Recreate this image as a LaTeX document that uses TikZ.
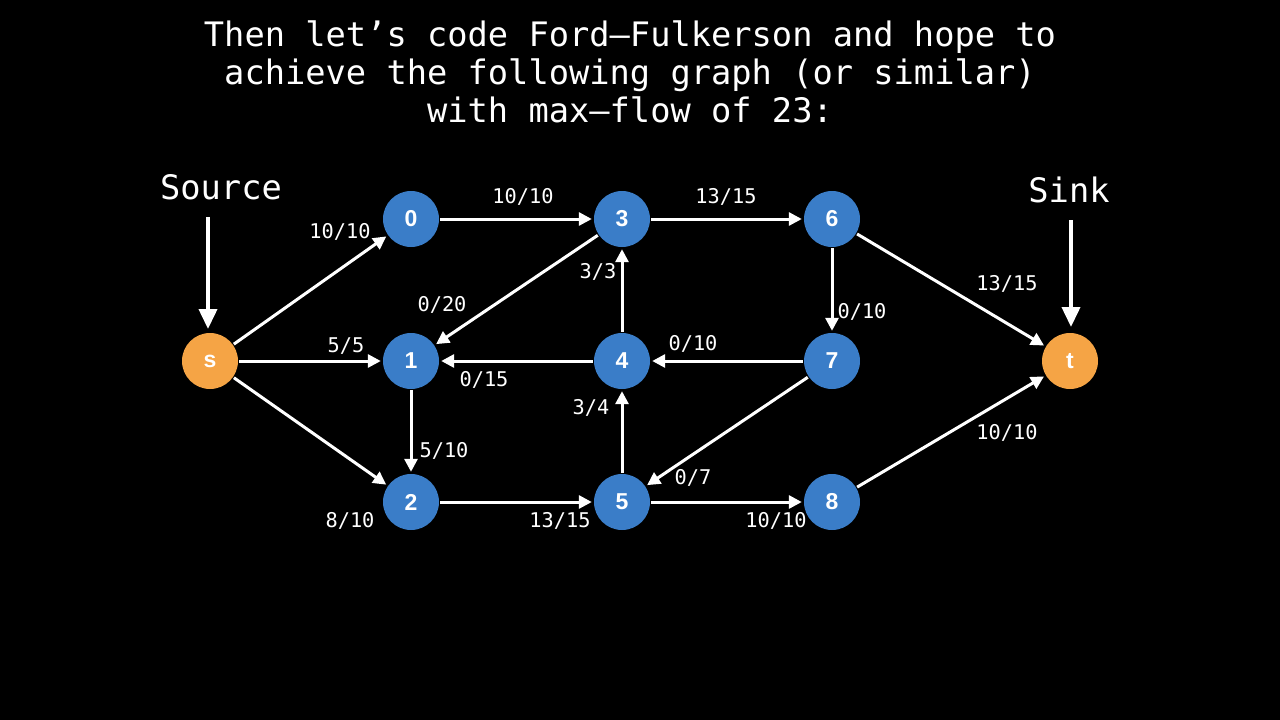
\documentclass[tikz,border=0pt]{standalone}
\usepackage{fontspec}
\usetikzlibrary{arrows.meta}
\newfontfamily\monof{DejaVu Sans Mono}
\newfontfamily\nodef{Liberation Sans}
\definecolor{nblue}{RGB}{58,125,200}
\definecolor{norange}{RGB}{245,164,69}
\tikzset{
  vtx/.style={circle, fill=nblue, minimum size=56pt, inner sep=0pt, text=white, font=\nodef\fontsize{23}{23}\selectfont\bfseries},
  term/.style={vtx, fill=norange},
  edge/.style={draw=white, line width=3pt, -{Triangle[length=13pt,width=13pt]}, shorten >=2pt, shorten <=1pt},
  bigarrow/.style={draw=white, line width=3.8pt, -{Triangle[length=20pt,width=18pt]}},
  elabel/.style={text=white, font=\monof\fontsize{20.3}{22}\selectfont, inner sep=0pt},
  title/.style={text=white, font=\monof\fontsize{33.7}{38}\selectfont, align=center, inner sep=0pt},
}
\begin{document}
\begin{tikzpicture}[x=1pt,y=-1pt]
\fill[black] (0,0) rectangle (1280,720);
\useasboundingbox (0,0) rectangle (1280,720);

\node[title] (ttl) at (630,72) {Then let’s code Ford–Fulkerson and hope to\\achieve the following graph (or similar)\\with max–flow of 23:};

\node[vtx] (n0) at (411,219) {0};
\node[vtx] (n1) at (411,361) {1};
\node[vtx] (n2) at (411,502) {2};
\node[vtx] (n3) at (622,219) {3};
\node[vtx] (n4) at (622,361) {4};
\node[vtx] (n5) at (622,502) {5};
\node[vtx] (n6) at (832,219) {6};
\node[vtx] (n7) at (832,361) {7};
\node[vtx] (n8) at (832,502) {8};
\node[term] (s) at (210,361) {s};
\node[term] (t) at (1070,361) {t};

\node[title] (src) at (221,187) {Source};
\node[title] (snk) at (1069,190) {Sink};
\coordinate (srcTop) at (208,217);
\coordinate (snkTop) at (1071,220);
\draw[bigarrow] (srcTop) -- (208,329);
\draw[bigarrow] (snkTop) -- (1071,327);

\draw[edge] (s) -- (n0);
\draw[edge] (s) -- (n1);
\draw[edge] (s) -- (n2);
\draw[edge] (n0) -- (n3);
\draw[edge] (n3) -- (n1);
\draw[edge] (n3) -- (n6);
\draw[edge] (n4) -- (n3);
\draw[edge] (n4) -- (n1);
\draw[edge] (n7) -- (n4);
\draw[edge] (n6) -- (n7);
\draw[edge] (n1) -- (n2);
\draw[edge] (n2) -- (n5);
\draw[edge] (n5) -- (n4);
\draw[edge] (n7) -- (n5);
\draw[edge] (n5) -- (n8);
\draw[edge] (n6) -- (t);
\draw[edge] (n8) -- (t);

\node[elabel] (l1) at (340,232) {10/10};
\node[elabel] (l2) at (346,346) {5/5};
\node[elabel] (l3) at (350,521) {8/10};
\node[elabel] (l4) at (523,197) {10/10};
\node[elabel] (l5) at (442,305) {0/20};
\node[elabel] (l6) at (726,197) {13/15};
\node[elabel] (l7) at (598,272) {3/3};
\node[elabel] (l8) at (484,380) {0/15};
\node[elabel] (l9) at (693,344) {0/10};
\node[elabel] (l10) at (862,312) {0/10};
\node[elabel] (l11) at (444,451) {5/10};
\node[elabel] (l12) at (560,521) {13/15};
\node[elabel] (l13) at (591,408) {3/4};
\node[elabel] (l14) at (693,478) {0/7};
\node[elabel] (l15) at (776,521) {10/10};
\node[elabel] (l16) at (1007,284) {13/15};
\node[elabel] (l17) at (1007,433) {10/10};
\end{tikzpicture}
\end{document}
